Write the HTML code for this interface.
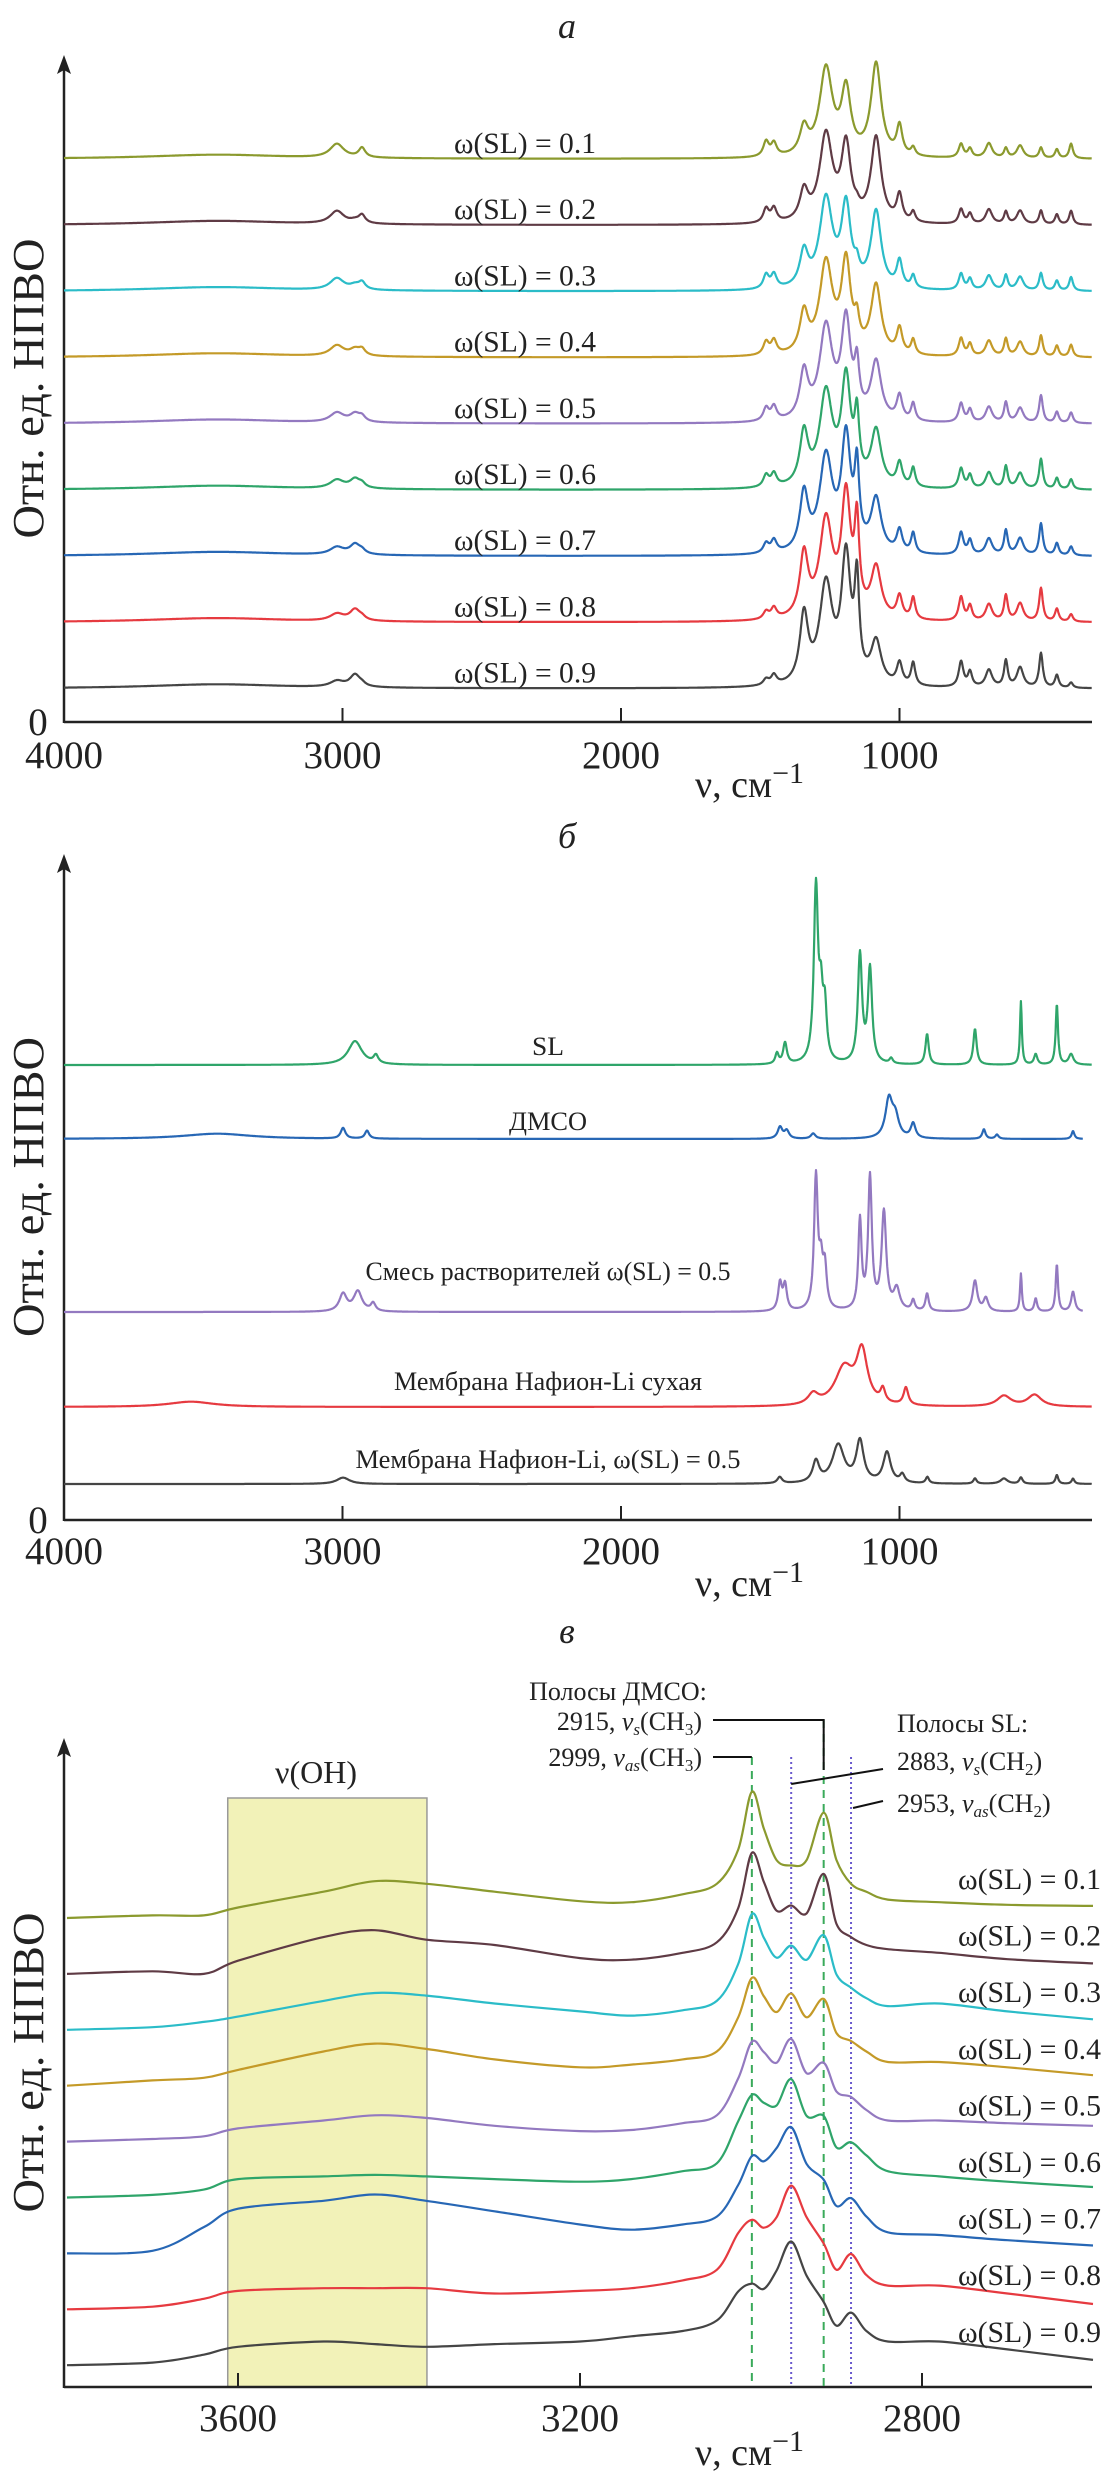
<!DOCTYPE html>
<html>
<head>
<meta charset="utf-8">
<style>
html,body{margin:0;padding:0;background:#fff;}
svg{display:block;font-family:"Liberation Serif","DejaVu Serif",serif;}
</style>
</head>
<body>
<svg id="fig" xmlns="http://www.w3.org/2000/svg" width="1107" height="2473" viewBox="0 0 1107 2473"></svg>
<script>
// ---------- Panel a data ----------
const aLabels = ['ω(SL) = 0.1','ω(SL) = 0.2','ω(SL) = 0.3','ω(SL) = 0.4','ω(SL) = 0.5','ω(SL) = 0.6','ω(SL) = 0.7','ω(SL) = 0.8','ω(SL) = 0.9'];
const aPeakPos = [3020,2955,2930,1479,1451,1343,1264,1192,1153,1084,1000,951,779,747,679,618,567,492,435,384];
const aPeakWidth = [30,22,14,12,12,18,28,20,10,22,12,9,10,9,14,8,14,8,8,8];
const aH01 = [26,0,18,28,24,50,165,120,0,175,55,15,26,17,28,18,24,20,17,28];
const aH02 = [24,5,15,26,26,55,165,140,10,160,50,19,28,19,28,23,26,26,19,26];
const aH03 = [22,8,13,26,26,65,168,150,25,145,50,24,31,21,28,28,26,33,19,26];
const aH04 = [20,12,11,24,26,75,172,168,45,130,48,28,34,23,30,33,28,40,21,23];
const aH05 = [18,15,9,24,26,88,175,182,85,110,46,33,36,24,30,38,28,52,21,20];
const aH06 = [16,17,7,22,24,98,175,196,112,105,44,36,38,25,31,42,30,57,21,19];
const aH07 = [14,19,6,18,23,108,178,210,140,100,42,38,42,27,31,46,32,60,23,17];
const aH08 = [13,21,5,14,20,118,182,224,160,95,42,41,45,28,32,48,34,63,24,14];
const aH09 = [11,23,4,11,18,128,186,234,175,80,41,43,48,28,33,50,38,65,24,10];
const aHeights = [aH01,aH02,aH03,aH04,aH05,aH06,aH07,aH08,aH09];

// ---------- Panel b data ----------
const bLabels = ['SL','ДМСО','Смесь растворителей ω(SL) = 0.5','Мембрана Нафион-Li сухая','Мембрана Нафион-Li, ω(SL) = 0.5'];
const bSLPos = [2955,2880,1440,1411,1300,1282,1268,1142,1106,1030,901,729,564,511,435,384];
const bSLWidth = [30,10,7,8,9,8,8,9,9,7,7,7,4,7,5,10];
const bSLHeight = [45,15,20,40,330,105,95,205,178,10,58,68,120,20,115,20];
const bDMSOPos = [3450,2998,2912,1429,1405,1310,1038,1015,951,697,650,377];
const bDMSOWidth = [150,10,9,10,10,10,15,15,10,7,7,6];
const bDMSOHeight = [10,20,15,22,15,10,72,38,28,18,8,15];
const bMixPos = [2998,2945,2890,1429,1411,1300,1282,1268,1142,1106,1056,1010,951,901,729,690,564,511,435,377];
const bMixWidth = [16,18,10,8,8,8,8,8,7,8,10,13,7,7,10,10,4,6,5,8];
const bMixHeight = [33,38,15,52,48,250,75,75,168,250,185,40,20,33,58,25,72,25,90,38];
const bDryPos = [3544,1310,1199,1135,1060,977,625,515];
const bDryWidth = [100,22,40,24,10,10,30,30];
const bDryHeight = [10,20,70,98,25,33,20,22];
const bNafPos = [2998,1430,1300,1220,1142,1045,990,900,729,625,564,435,377];
const bNafWidth = [28,10,14,26,16,16,10,7,7,15,7,6,6];
const bNafHeight = [12,12,40,72,78,58,15,12,10,10,12,17,10];
const bEndWn = [309,341,341,309,309];

// ---------- Panel c data ----------
const cLabels = aLabels;
const cWn = [3800,3700,3640,3600,3500,3440,3380,3300,3200,3140,3080,3040,3015,2999,2985,2970,2953,2935,2915,2900,2883,2865,2840,2780,2700,2600];
const cI01 = [0,5,5,20,50,70,65,50,32,30,45,65,130,240,170,110,100,110,200,110,65,50,35,30,25,23];
const cI02 = [0,5,0,25,70,83,65,55,30,27,40,60,125,230,175,120,130,115,190,95,70,55,47,40,28,20];
const cI03 = [0,5,15,25,55,70,65,50,35,27,37,55,125,220,175,137,160,133,180,105,80,60,45,50,35,20];
const cI04 = [0,10,15,30,65,80,70,50,35,40,50,65,130,205,170,140,175,130,165,100,85,65,45,45,35,20];
const cI05 = [0,5,10,25,40,50,45,30,20,22,35,50,120,190,170,150,195,130,150,95,85,60,40,40,35,30];
const cI06 = [0,5,15,35,40,43,40,35,30,35,50,65,145,195,180,175,225,155,155,95,105,80,50,40,30,20];
const cI07 = [0,5,50,85,100,112,100,80,55,45,55,70,130,185,175,200,240,170,140,90,105,70,40,35,25,15];
const cI08 = [0,5,20,35,40,40,40,30,35,40,55,75,145,170,155,175,235,175,125,75,105,65,45,45,30,10];
const cI09 = [0,5,20,35,45,40,35,40,45,55,65,85,140,155,145,180,235,170,120,75,100,65,45,45,30,10];
const cIntensities = [cI01,cI02,cI03,cI04,cI05,cI06,cI07,cI08,cI09];
const cTicks = [3600,3200,2800];
const abTicks = [4000,3000,2000,1000];

// ---------- helpers ----------
const NS='http://www.w3.org/2000/svg';
const svg=document.getElementById('fig');
function mk(tag,attrs,parent){const e=document.createElementNS(NS,tag);for(const k in attrs)e.setAttribute(k,attrs[k]);(parent||svg).appendChild(e);return e;}
const colors9=['#8b9a2e','#5f3b45','#2bbcc8','#c49a28','#9379c0','#2fa56a','#2767b5','#e63a40','#454545'];
const colorsB=['#2fa56a','#2767b5','#9379c0','#e63a40','#454545'];

const xAB = wn => 64 + (4000-wn)*0.2785;
const xC = wn => 238 + (3600-wn)*0.855;
const IA = 1/1.892;

function spectrum(pos,wid,hei,wn){let s=0;for(let i=0;i<pos.length;i++){const d=(wn-pos[i])/wid[i];s+=hei[i]/(1+d*d);}return s;}

function axes(prefix, axisY, topY, ticks, xf, titleText, titleY, labelY, tickLabelY){
  const g=mk('g',{});
  
  
  mk('line',{x1:64,y1:axisY,x2:1092,y2:axisY,stroke:'#222','stroke-width':2.5},g);
  mk('line',{x1:64,y1:axisY+1,x2:64,y2:topY+14,stroke:'#222','stroke-width':2.5},g);
  mk('path',{d:`M64 ${topY} L57 ${topY+19} L64 ${topY+15} L71 ${topY+19} Z`,fill:'#222'},g);
  ticks.forEach(t=>{
    const x=xf(t);
    mk('line',{x1:x,y1:axisY,x2:x,y2:axisY-14,stroke:'#222','stroke-width':2},g);
    const tl=mk('text',{x:x,y:tickLabelY+13,'text-anchor':'middle','font-size':39,fill:'#222'},g);
    tl.textContent=t;
    
    
  });
  const yl=mk('text',{transform:`translate(43 ${(axisY+topY)/2}) rotate(-90)`,'text-anchor':'middle','font-size':44,fill:'#222',textLength:300,lengthAdjust:'spacingAndGlyphs'},g);
  yl.textContent='Отн. ед. НПВО';
  
  
  const xl=mk('text',{x:695,y:labelY,'font-size':38,fill:'#222'},g);
  xl.innerHTML='ν, см<tspan dy="-14" font-size="30">−1</tspan>';
  
  
  const tt=mk('text',{x:567,y:titleY,'text-anchor':'middle','font-size':36,'font-style':'italic',fill:'#222'},g);
  tt.textContent=titleText;
  
  
}

function drawLine(pts,color,name){
  let d='';pts.forEach((p,i)=>{d+=(i?'L':'M')+p[0].toFixed(1)+' '+p[1].toFixed(1);});
  const p=mk('path',{d:d,fill:'none',stroke:color,'stroke-width':2.2,'stroke-linejoin':'round'});
  
  
}

// ---------- Panel a ----------
axes('panel-a',722,55,abTicks,xAB,'а',38,797,755);
{const z=mk('text',{x:38,y:735,'text-anchor':'middle','font-size':39,fill:'#222'});z.textContent='0';
}
aLabels.forEach((lab,i)=>{
  const base=159+i*66.2;
  const pts=[];
  for(let wn=4000;wn>=309;wn-=2){
    const bg=8/(1+((wn-3450)/300)**2);
    pts.push([xAB(wn), base-(spectrum(aPeakPos,aPeakWidth,aHeights[i],wn)+bg)*IA]);
  }
  drawLine(pts,colors9[i],'panel-a-spectrum-'+(i+1));
  const t=mk('text',{x:525,y:base-6,'text-anchor':'middle','font-size':30,fill:'#222',textLength:142,lengthAdjust:'spacingAndGlyphs'});
  t.textContent=lab;
  
  
});

// ---------- Panel b ----------
axes('panel-b',1520,854,abTicks,xAB,'б',848,1596,1551);
{const z=mk('text',{x:38,y:1533,'text-anchor':'middle','font-size':39,fill:'#222'});z.textContent='0';
}
const bSeries=[[bSLPos,bSLWidth,bSLHeight],[bDMSOPos,bDMSOWidth,bDMSOHeight],[bMixPos,bMixWidth,bMixHeight],[bDryPos,bDryWidth,bDryHeight],[bNafPos,bNafWidth,bNafHeight]];
const bBase=[1065,1139,1312,1407,1484];
const bLabY=[1055,1130,1280,1390,1468];
const bLabW=[32,78,365,308,385];
bSeries.forEach((s,i)=>{
  const pts=[];
  for(let wn=4000;wn>=bEndWn[i];wn-=2){pts.push([xAB(wn),bBase[i]-spectrum(s[0],s[1],s[2],wn)*IA]);}
  drawLine(pts,colorsB[i],'panel-b-spectrum-'+(i+1));
  const t=mk('text',{x:548,y:bLabY[i],'text-anchor':'middle','font-size':26,fill:'#222',textLength:bLabW[i],lengthAdjust:'spacingAndGlyphs'});
  t.textContent=bLabels[i];
  
  
});

// ---------- Panel c ----------
{const r=mk('rect',{x:xC(3612),y:1798,width:xC(3379)-xC(3612),height:2387-1798,fill:'#f2f2b8',stroke:'#999','stroke-width':1.5});

const t=mk('text',{x:316,y:1783,'text-anchor':'middle','font-size':32,fill:'#222'});t.textContent='ν(OH)';
}
axes('panel-c',2387,1738,cTicks,xC,'в',1643,2465,2418);
function catmull(pts){let d='M'+pts[0][0].toFixed(1)+' '+pts[0][1].toFixed(1);
  for(let i=0;i<pts.length-1;i++){const p0=pts[i-1]||pts[i],p1=pts[i],p2=pts[i+1],p3=pts[i+2]||p2;
    const c1=[p1[0]+(p2[0]-p0[0])/6,p1[1]+(p2[1]-p0[1])/6],c2=[p2[0]-(p3[0]-p1[0])/6,p2[1]-(p3[1]-p1[1])/6];
    d+=`C${c1[0].toFixed(1)} ${c1[1].toFixed(1)} ${c2[0].toFixed(1)} ${c2[1].toFixed(1)} ${p2[0].toFixed(1)} ${p2[1].toFixed(1)}`;}
  return d;}
[[2999,'#3aaa5a','8,6',1757],[2915,'#3aaa5a','8,6',1720],[2953,'#6a5acd','2,3',1757],[2883,'#6a5acd','2,3',1757]].forEach(v=>{
  const l=mk('line',{x1:xC(v[0]),y1:v[3],x2:xC(v[0]),y2:2386,stroke:v[1],'stroke-width':2,'stroke-dasharray':v[2]});
  
});
cIntensities.forEach((arr,i)=>{
  const base=1918+i*55.9;
  const pts=cWn.map((w,k)=>[xC(w),base-arr[k]/1.9]);
  const p=mk('path',{d:catmull(pts),fill:'none',stroke:colors9[i],'stroke-width':2.2});
  
  
  const t=mk('text',{x:1101,y:1889+i*56.6,'text-anchor':'end','font-size':30,fill:'#222',textLength:143,lengthAdjust:'spacingAndGlyphs'});
  t.textContent=cLabels[i];
  
  
});
function ann(x,y,anchor,html,name){const t=mk('text',{x:x,y:y,'text-anchor':anchor,'font-size':26,fill:'#222'});t.innerHTML=html;
  }
ann(618,1700,'middle','Полосы ДМСО:','dmso-bands-title');
ann(702,1730,'end','2915, <tspan font-style="italic">ν<tspan font-size="17" dy="5">s</tspan></tspan><tspan dy="-5">(CH</tspan><tspan font-size="17" dy="5">3</tspan><tspan dy="-5">)</tspan>','dmso-band-2915');
ann(702,1766,'end','2999, <tspan font-style="italic">ν<tspan font-size="17" dy="5">as</tspan></tspan><tspan dy="-5">(CH</tspan><tspan font-size="17" dy="5">3</tspan><tspan dy="-5">)</tspan>','dmso-band-2999');
ann(897,1732,'start','Полосы SL:','sl-bands-title');
ann(897,1770,'start','2883, <tspan font-style="italic">ν<tspan font-size="17" dy="5">s</tspan></tspan><tspan dy="-5">(CH</tspan><tspan font-size="17" dy="5">2</tspan><tspan dy="-5">)</tspan>','sl-band-2883');
ann(897,1812,'start','2953, <tspan font-style="italic">ν<tspan font-size="17" dy="5">as</tspan></tspan><tspan dy="-5">(CH</tspan><tspan font-size="17" dy="5">2</tspan><tspan dy="-5">)</tspan>','sl-band-2953');
[[`M713 1720 L${xC(2915)} 1720 L${xC(2915)} 1770`],[`M713 1757 L${xC(2999)} 1757`],[`M883 1769 L${xC(2953)} 1784`],[`M883 1801 L${xC(2883)+2} 1808`]].forEach((d,i)=>{
  const p=mk('path',{d:d[0],fill:'none',stroke:'#111','stroke-width':2});
  
});
</script>
</body>
</html>
